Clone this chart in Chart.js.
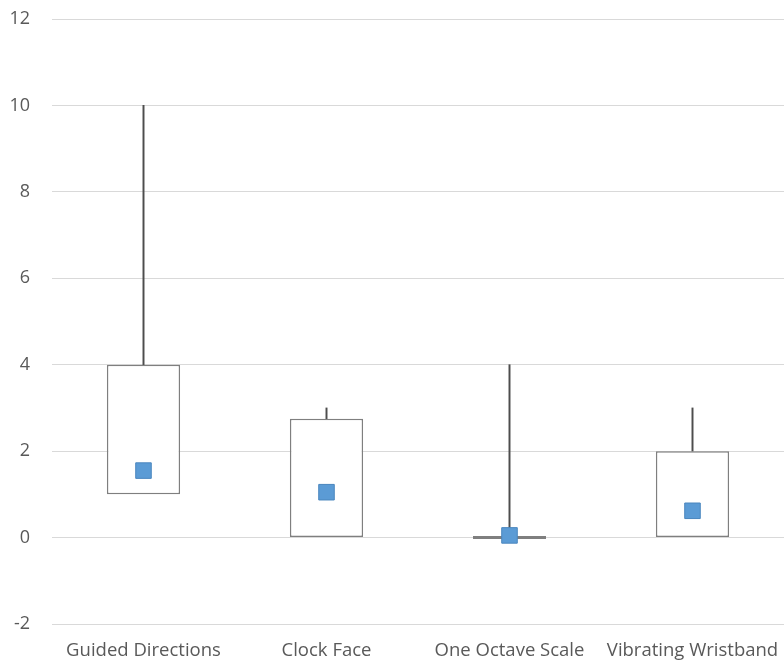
<!DOCTYPE html>
<html>
<head>
<meta charset="utf-8">
<script src="https://cdn.jsdelivr.net/npm/chart.js@4"></script>
<style>
  html, body { margin: 0; padding: 0; background: #fff; }
  #wrap { width: 784px; height: 663px; }
</style>
</head>
<body>
<div id="wrap"><canvas id="chart"></canvas></div>
<script>
// Data
const categories = ["Guided Directions", "Clock Face", "One Octave Scale", "Vibrating Wristband"];
const q1Values = [1, 0, 0, 0];
const q3Values = [4, 2.75, 0, 2];
const maxValues = [10, 3, 4, 3];
const meanValues = [1.55, 1.05, 0.05, 0.62];

const yTicks = [-2, 0, 2, 4, 6, 8, 10, 12];

const boxData = categories.map((_, i) => [q1Values[i], q3Values[i]]);
const whiskerData = categories.map((_, i) => [q3Values[i], maxValues[i]]);

const ctx = document.getElementById("chart").getContext("2d");
new Chart(ctx, {
  type: "bar",
  data: {
    labels: categories,
    datasets: [
      {
        type: "line",
        label: "Mean",
        data: meanValues,
        showLine: false,
        pointStyle: "rect",
        pointRadius: 11,
        pointHoverRadius: 11,
        backgroundColor: "#5b9bd5",
        borderColor: "#4a86be",
        borderWidth: 1,
        order: 0
      },
      {
        label: "Box",
        data: boxData,
        grouped: false,
        backgroundColor: "#ffffff",
        borderColor: "#7f7f7f",
        borderWidth: 1.5,
        borderSkipped: false,
        minBarLength: 3,
        categoryPercentage: 1,
        barPercentage: 0.4,
        order: 1
      },
      {
        label: "Whisker",
        data: whiskerData,
        grouped: false,
        backgroundColor: "#4d4d4d",
        borderWidth: 0,
        barThickness: 1.3,
        order: 2
      }
    ]
  },
  options: {
    responsive: true,
    maintainAspectRatio: false,
    animation: false,
    layout: { autoPadding: false, padding: { top: 19, right: 0, bottom: 0, left: 0 } },
    plugins: {
      legend: { display: false },
      tooltip: { enabled: false }
    },
    scales: {
      x: {
        offset: true,
        grid: { display: false, drawTicks: false },
        border: { display: false },
        afterFit: (scale) => {
          scale.height = 39;
          scale.paddingLeft = 0;
          scale.paddingRight = 0;
        },
        ticks: {
          color: "#595959",
          font: { family: "Open Sans", size: 18.5 },
          padding: 16,
          maxRotation: 0,
          autoSkip: false
        }
      },
      y: {
        min: -2,
        max: 12,
        afterBuildTicks: (scale) => {
          scale.ticks = yTicks.map((v) => ({ value: v }));
        },
        afterFit: (scale) => {
          scale.width = 52;
          scale.paddingTop = 0;
          scale.paddingBottom = 0;
        },
        grid: { color: "#d9d9d9", lineWidth: 1, drawTicks: false },
        border: { display: false },
        ticks: {
          color: "#595959",
          font: { family: "Open Sans", size: 18 },
          padding: 22
        }
      }
    }
  }
});
</script>
</body>
</html>
